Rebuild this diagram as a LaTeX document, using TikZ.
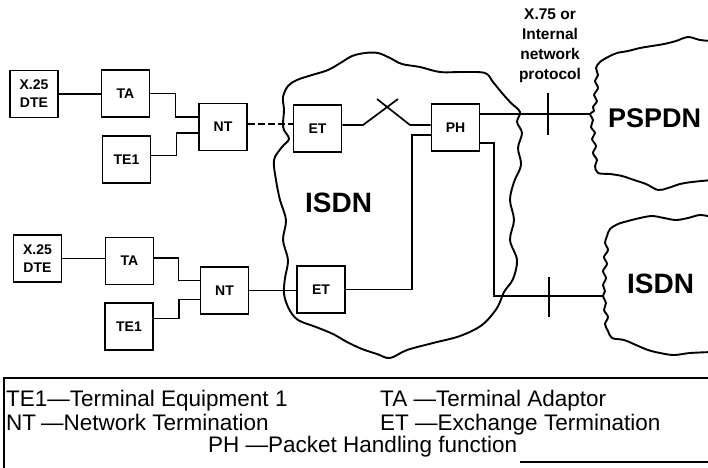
\documentclass[tikz,border=0pt]{standalone}
\usepackage{fontspec}
\setmainfont{Liberation Sans}
\begin{document}
\begin{tikzpicture}[x=1pt,y=-1pt,
  box/.style={draw,line width=1.9pt,minimum width=48pt,minimum height=47pt,inner sep=0pt,
    font=\bfseries\fontsize{14}{18}\selectfont,align=center},
  wire/.style={line width=1.7pt},
  cloud/.style={line width=1.9pt,line join=round},
  leg/.style={anchor=base west,inner sep=0pt,font=\fontsize{22.5}{24}\selectfont},
  big/.style={anchor=base west,inner sep=0pt,font=\bfseries\fontsize{28}{28}\selectfont}]
\useasboundingbox (0,0) rectangle (708,467);

% clouds
\draw[cloud] plot[smooth cycle,tension=0.55] coordinates {(283,97) (288,86) (297,80) (312,75) (328,70) (342,62) (352,56) (365,53) (378,53) (390,58) (402,64) (420,67) (440,72) (463,72) (485,73) (493,82) (502,93) (511,103) (520,112) (517,122) (522,133) (518,148) (521,165) (514,182) (510,200) (514,220) (510,240) (517,260) (513,279) (504,292) (497,308) (482,325) (460,336) (433,343) (407,350) (390,358) (377,354) (362,349) (347,342) (333,334) (316,327) (298,320) (289,309) (284,294) (285,278) (288,260) (283,240) (286,220) (280,200) (276,180) (274,160) (282,147) (289,139) (284,130) (283,123) (284,110)};
\draw[cloud] plot[smooth,tension=0.55] coordinates {(712,41) (700,40) (688,37) (676,41) (664,44) (652,46) (640,48) (628,51) (617,53) (608,57) (600,62) (596,68) (598,75) (595,81) (598,88) (594,95) (597,101) (593,107) (594,111) (590,114) (593,120) (591,127) (595,133) (592,139) (596,146) (593,153) (597,160) (595,166) (598,173) (610,174) (622,176) (634,180) (646,184) (658,190) (668,188) (680,184) (692,182) (712,180)};
\draw[cloud] plot[smooth,tension=0.55] coordinates {(712,217) (700,215) (688,218) (676,220) (664,218) (652,216) (640,218) (628,221) (618,224) (610,229) (607,236) (605,243) (608,250) (604,257) (607,264) (603,271) (606,278) (603,285) (605,291) (603,296) (606,303) (604,310) (608,317) (605,324) (608,331) (612,338) (624,340) (636,345) (648,350) (660,353) (674,355) (690,353) (712,352)};

% boxes
\node[box] (dte1) at (34,94) {X.25\\DTE};
\node[box] (ta1) at (125.5,93.5) {TA};
\node[box] (te1a) at (126.5,159.5) {TE1};
\node[box] (nt1) at (223,127) {NT};
\node[box] (et1) at (317.5,128.5) {ET};
\node[box] (ph) at (455.5,127.5) {PH};
\node[box] (dte2) at (37.5,258.5) {X.25\\DTE};
\node[box] (ta2) at (129.5,261) {TA};
\node[box] (te1b) at (129,326.5) {TE1};
\node[box] (nt2) at (224.5,290.5) {NT};
\node[box] (et2) at (321,289.5) {ET};

% coordinates
\coordinate (xa) at (363,125);
\coordinate (xb) at (398,99);
\coordinate (xc) at (377,99);
\coordinate (xd) at (410,125);
\coordinate (pp) at (590,114);
\coordinate (ip) at (603,296);
\coordinate (c1) at (412,135);
\coordinate (c2) at (494,143);
\coordinate (ta) at (548,93);
\coordinate (tb) at (548,135);
\coordinate (tc) at (549,277);
\coordinate (td) at (549,317);

% upper connections
\draw[wire] (dte1.east) -- (dte1.east -| ta1.west);
\draw[wire] (ta1.east) -- ++(25,0) |- ([yshift=10pt]nt1.west);
\draw[wire] ([yshift=4pt]te1a.east) -- ++(25,0) |- ([yshift=-6pt]nt1.west);
\coordinate (d1) at ([yshift=3pt]nt1.east);
\draw[wire,dash pattern=on 7pt off 3pt] (d1) -- (d1 -| et1.west);
\draw[wire] (et1.east |- xa) -- (xa) -- (xb);
\draw[wire] (xc) -- (xd) -- (ph.west |- xd);
\draw[wire] (ph.east |- pp) -- (pp);
\draw[wire] (ta) -- (tb);

% lower connections
\draw[wire] (dte2.east) -- (dte2.east -| ta2.west);
\draw[wire] ([yshift=3pt]ta2.east) -- ++(24,0) |- ([yshift=10pt]nt2.west);
\draw[wire] ([yshift=8pt]te1b.east) -- ++(25,0) |- ([yshift=-9pt]nt2.west);
\draw[wire] (nt2.east) -- (nt2.east -| et2.west);
\draw[wire] (et2.east) -| (c1) -- (ph.west |- c1);
\draw[wire] (ph.east |- c2) -- (c2) |- (ip);
\draw[wire] (tc) -- (td);

% labels
\node[big] (isdn1) at (305,212) {ISDN};
\node[big,font=\bfseries\fontsize{27}{27}\selectfont] (pspdn) at (608,127) {PSPDN};
\node[big] (isdn2) at (627,293) {ISDN};
\node[anchor=north,inner sep=0pt,align=center,font=\bfseries\fontsize{15.5}{20}\selectfont] (proto) at (550,9) {X.75 or\\Internal\\network\\protocol};

% legend
\draw[line width=1.6pt] (712,378) -- (4,378) -- (4,470);
\draw[line width=1.6pt] (520,462) -- (712,462);
\node[leg] (l1) at (6,406) {TE1—Terminal Equipment 1};
\node[leg] (l2) at (380,406) {TA —Terminal Adaptor};
\node[leg] (l3a) at (6,430) {NT};
\node[leg] (l3b) at (41,430) {—Network Termination};
\node[leg] (l4) at (380,430) {ET —Exchange Termination};
\node[leg] (l5) at (208,452) {PH —Packet Handling function};
\end{tikzpicture}
\end{document}
